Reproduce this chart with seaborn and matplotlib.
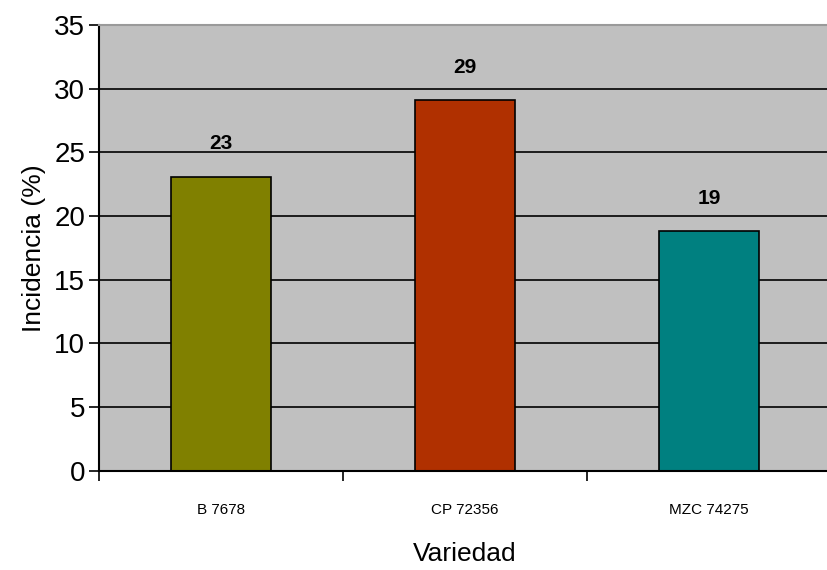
import matplotlib
matplotlib.use("Agg")
import matplotlib.pyplot as plt
import seaborn as sns
import pandas as pd
from matplotlib.ticker import FixedLocator

categories = ["B 7678", "CP 72356", "MZC 74275"]
values = [23.1, 29.1, 18.8]
labels = ["23", "29", "19"]
colors = ["#808000", "#B03000", "#008080"]

sns.set_theme(style="white")
plt.rcParams['font.family'] = ['Liberation Sans', 'DejaVu Sans']
plt.rcParams['text.color'] = 'black'
plt.rcParams['axes.labelcolor'] = 'black'
plt.rcParams['xtick.color'] = 'black'
plt.rcParams['ytick.color'] = 'black'

df = pd.DataFrame({"Variedad": categories, "Incidencia": values})

fig = plt.figure(figsize=(8.27, 5.70), dpi=100)
ax = fig.add_axes([0.12, 0.174, 0.885, 0.782])
ax.set_facecolor("#C0C0C0")
ax.set_axisbelow(True)

sns.barplot(data=df, x="Variedad", y="Incidencia", hue="Variedad",
            palette=colors, saturation=1, width=0.41, edgecolor="black",
            linewidth=1.2, legend=False, ax=ax)

ax.set_ylim(0, 35)
ax.set_xlim(-0.5, 2.5)
ax.set_yticks(range(0, 36, 5))
ax.yaxis.grid(True, color="black", linewidth=1.2)
ax.tick_params(axis="y", which="major", direction="out", length=7, width=1.2,
               labelsize=20, color="black", pad=3, left=True)
ax.tick_params(axis="x", which="major", length=0, labelsize=11, pad=23)
ax.xaxis.set_minor_locator(FixedLocator([-0.5, 0.5, 1.5]))
ax.tick_params(axis="x", which="minor", direction="out", length=7, width=1.2,
               color="black", bottom=True)

ax.spines["right"].set_visible(False)
ax.spines["top"].set_color("#9A9A9A")
ax.spines["top"].set_linewidth(1.5)
for s in ["left", "bottom"]:
    ax.spines[s].set_color("black")
    ax.spines[s].set_linewidth(1.5)

for i, (v, t) in enumerate(zip(values, labels)):
    ax.annotate(t, (i, v), xytext=(0, 17), textcoords="offset points",
                ha="center", va="bottom", fontsize=15, fontweight="bold")

ax.set_xlabel("Variedad", fontsize=19, labelpad=18)
ax.set_ylabel("Incidencia (%)", fontsize=19, labelpad=6)

fig.savefig("out.png", dpi=100)
